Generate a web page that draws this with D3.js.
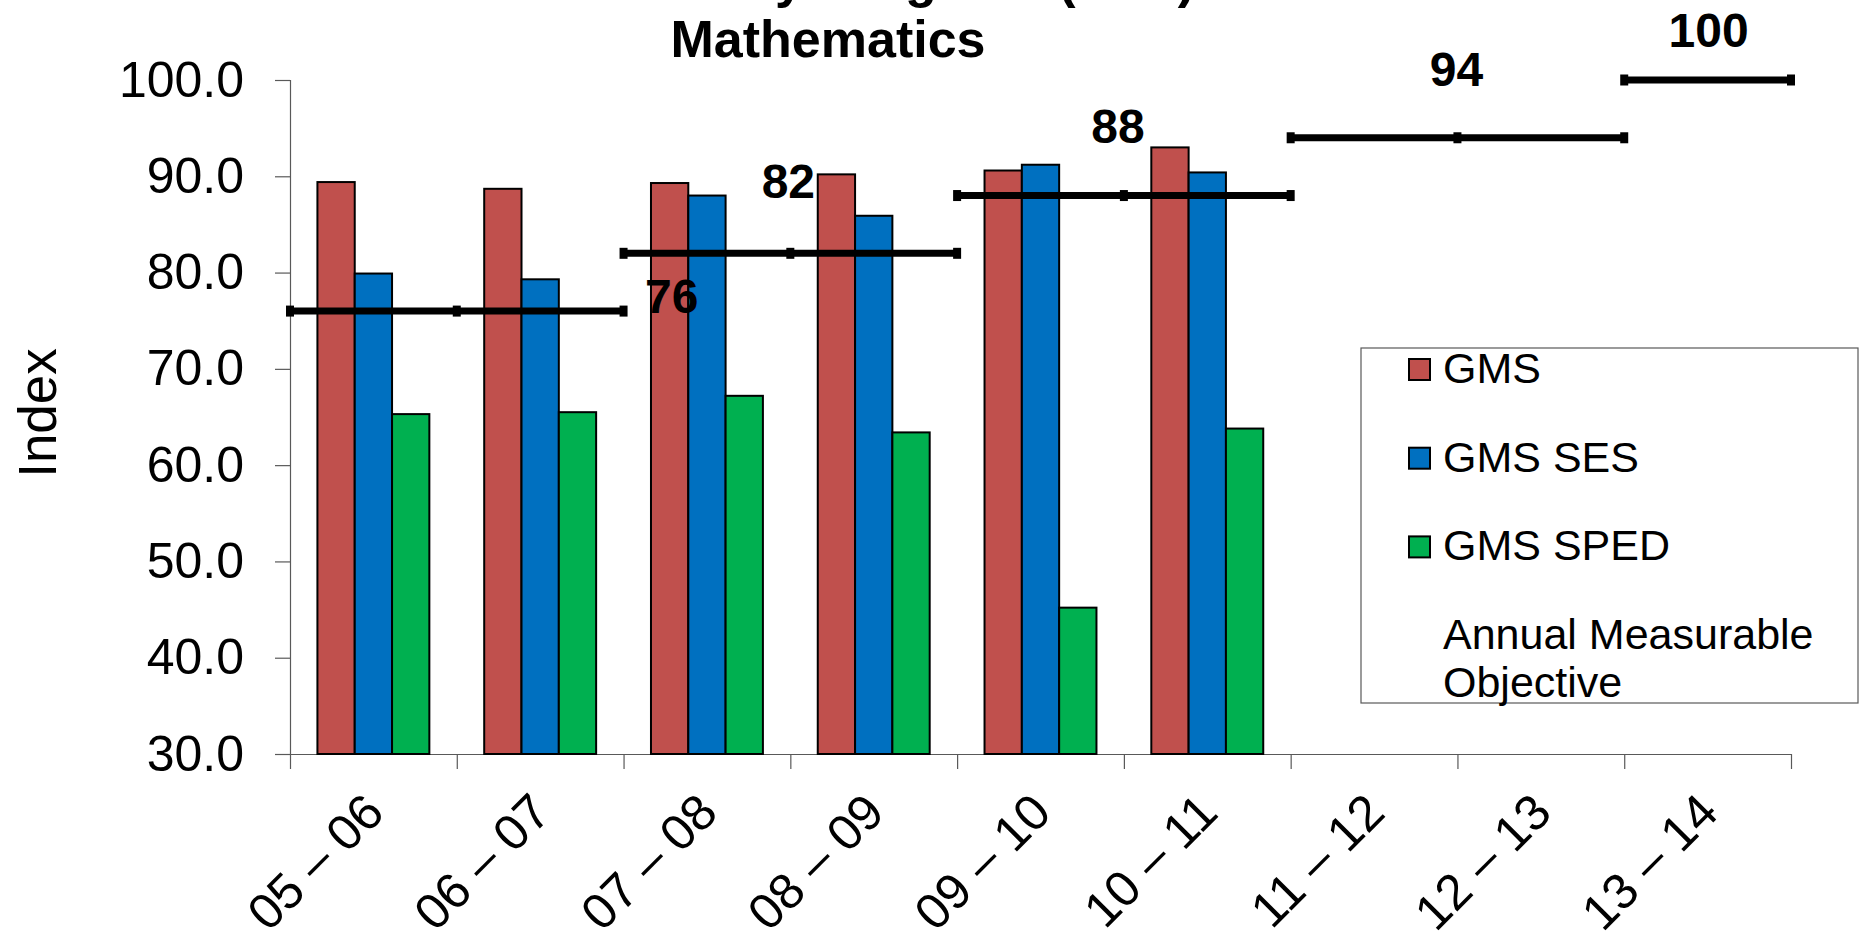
<!DOCTYPE html>
<html>
<head>
<meta charset="utf-8">
<script src="https://cdn.jsdelivr.net/npm/d3@7"></script>
<style>
  html, body { margin: 0; padding: 0; background: #fff; }
  svg { display: block; font-family: "Liberation Sans", Arial, Helvetica, sans-serif; }
</style>
</head>
<body>
<svg id="chart" width="1862" height="935"></svg>
<script>
// School years on the category axis
const categories = ["05 – 06", "06 – 07", "07 – 08", "08 – 09", "09 – 10", "10 – 11", "11 – 12", "12 – 13", "13 – 14"];

// Index values per subgroup (no results yet for the last three years)
const gms     = [89.4, 88.7, 89.3, 90.2, 90.6, 93.0, null, null, null];
const gmsSes  = [79.9, 79.3, 88.0, 85.9, 91.2, 90.4, null, null, null];
const gmsSped = [65.3, 65.5, 67.2, 63.4, 45.2, 63.8, null, null, null];

// Annual Measurable Objective target for each year
const amo = [76, 76, 82, 82, 88, 88, 94, 94, 100];

const seriesNames = ["GMS", "GMS SES", "GMS SPED"];
const amoLegend = ["Annual Measurable", "Objective"];
const yTicks = [30, 40, 50, 60, 70, 80, 90, 100];
const titleLines = ["Annual Yearly Progress (AYP)", "Mathematics"];
const yTitle = "Index";

// Presentation settings
const colors = { "GMS": "#C0504D", "GMS SES": "#0070C0", "GMS SPED": "#00B050" };
const plot = { left: 290, right: 1791, top: 80, bottom: 754 };
const amoLabelOffsets = [[215, 2], [-2, -55], [-6, -53], [-1, -52], [1, -33]];

const svg = d3.select("#chart");
const seriesValues = [gms, gmsSes, gmsSped];

const x = d3.scaleBand().domain(categories).range([plot.left, plot.right]).paddingInner(0).paddingOuter(0);
const xEdge = d3.scaleLinear().domain([0, categories.length]).range([plot.left, plot.right]);
const xs = d3.scaleBand().domain(seriesNames).range([0, x.bandwidth()]).paddingInner(0).paddingOuter(0.735);
const y = d3.scaleLinear().domain([30, 100]).range([plot.bottom, plot.top]);

// Titles
svg.append("g").selectAll("text").data(titleLines).join("text")
  .attr("x", 828)
  .attr("y", (d, i) => i === 0 ? -3 : 57)
  .attr("text-anchor", "middle")
  .attr("font-size", 52)
  .attr("font-weight", "bold")
  .attr("fill", "#000")
  .text(d => d);

// Y axis
const yAxis = svg.append("g")
  .attr("transform", `translate(${plot.left},0)`)
  .call(d3.axisLeft(y).tickValues(yTicks).tickSize(15).tickPadding(31).tickFormat(d3.format(".1f")));
yAxis.selectAll("text").attr("font-size", 50).attr("fill", "#000").attr("font-family", "inherit");
yAxis.selectAll("line, path").attr("stroke", "#595959").attr("stroke-width", 1.2);

// X axis: ticks on the category boundaries
const xAxis = svg.append("g")
  .attr("transform", `translate(0,${plot.bottom})`)
  .call(d3.axisBottom(xEdge).tickValues(d3.range(categories.length + 1)).tickSize(15).tickSizeOuter(0).tickFormat(""));
xAxis.selectAll("line, path").attr("stroke", "#595959").attr("stroke-width", 1.2);

// Category labels, rotated
svg.append("g").selectAll("text").data(categories).join("text")
  .attr("transform", d => `translate(${x(d) + x.bandwidth() / 2 + 13},${plot.bottom + 61}) rotate(-45)`)
  .attr("text-anchor", "end")
  .attr("font-size", 50)
  .attr("fill", "#000")
  .text(d => d);

// Y axis title
svg.append("text")
  .attr("transform", `translate(56,413) rotate(-90)`)
  .attr("text-anchor", "middle")
  .attr("font-size", 53)
  .attr("fill", "#000")
  .text(yTitle);

// Bars
const barData = [];
categories.forEach((c, i) => {
  seriesNames.forEach((s, j) => {
    const v = seriesValues[j][i];
    if (v != null) barData.push({ cat: c, series: s, value: v });
  });
});
svg.append("g").selectAll("rect").data(barData).join("rect")
  .attr("x", d => x(d.cat) + xs(d.series))
  .attr("y", d => y(d.value))
  .attr("width", xs.bandwidth())
  .attr("height", d => y(30) - y(d.value))
  .attr("fill", d => colors[d.series])
  .attr("stroke", "#000")
  .attr("stroke-width", 2);

// AMO step segments: one segment per run of equal targets
const runs = [];
amo.forEach((v, i) => {
  const last = runs[runs.length - 1];
  if (last && last.value === v) last.end = i;
  else runs.push({ value: v, start: i, end: i });
});

const amoG = svg.append("g");
runs.forEach((r, k) => {
  const edges = d3.range(r.start, r.end + 2);
  amoG.append("path")
    .attr("d", d3.line().x(e => xEdge(e)).y(() => y(r.value))(edges))
    .attr("stroke", "#000")
    .attr("stroke-width", 7)
    .attr("fill", "none");
  amoG.selectAll(null).data(edges).join("rect")
    .attr("x", e => xEdge(e) - 4)
    .attr("y", y(r.value) - 5.5)
    .attr("width", 8)
    .attr("height", 11)
    .attr("fill", "#000");
  const mid = (xEdge(r.start) + xEdge(r.end + 1)) / 2;
  const off = amoLabelOffsets[k];
  amoG.append("text")
    .attr("x", mid + off[0])
    .attr("y", y(r.value) + off[1])
    .attr("text-anchor", "middle")
    .attr("font-size", 48)
    .attr("font-weight", "bold")
    .attr("fill", "#000")
    .text(r.value);
});

// Legend
const legend = svg.append("g");
legend.append("rect")
  .attr("x", 1361).attr("y", 348).attr("width", 497).attr("height", 355)
  .attr("fill", "#fff").attr("stroke", "#595959").attr("stroke-width", 1.2);
seriesNames.forEach((s, i) => {
  const base = 383 + i * 88.7;
  legend.append("rect")
    .attr("x", 1409).attr("y", base - 24).attr("width", 21).attr("height", 21)
    .attr("fill", colors[s]).attr("stroke", "#000").attr("stroke-width", 2);
  legend.append("text")
    .attr("x", 1443).attr("y", base)
    .attr("font-size", 43).attr("fill", "#000")
    .text(s);
});
amoLegend.forEach((t, i) => {
  legend.append("text")
    .attr("x", 1443).attr("y", 649 + i * 48)
    .attr("font-size", 43).attr("fill", "#000")
    .text(t);
});
</script>
</body>
</html>
